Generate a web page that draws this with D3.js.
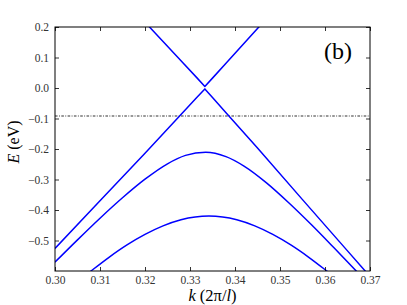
<!DOCTYPE html>
<html>
<head>
<meta charset="utf-8">
<script src="https://cdn.jsdelivr.net/npm/d3@7"></script>
<style>
  html, body { margin: 0; padding: 0; background: #fff; }
  svg { display: block; }
</style>
</head>
<body>
<svg id="chart" width="407" height="305"></svg>
<script>
// ---- data ----
const xTicks = [0.30, 0.31, 0.32, 0.33, 0.34, 0.35, 0.36, 0.37];
const yTicks = [-0.5, -0.4, -0.3, -0.2, -0.1, 0.0, 0.1, 0.2];

// upper branch of the (nearly) crossing pair
const upperK = [0.3190, 0.3210, 0.3280, 0.3315, 0.3333, 0.3351, 0.3380, 0.3453, 0.3470];
const upperE = [0.232, 0.200, 0.089, 0.034, 0.005, 0.034, 0.081, 0.200, 0.228];

// lower branch of the crossing pair
const lowerK = [0.300, 0.310, 0.320, 0.328, 0.3315, 0.3333, 0.3351, 0.338, 0.345, 0.355, 0.365, 0.370];
const lowerE = [-0.526, -0.370, -0.214, -0.087, -0.031, -0.003, -0.033, -0.081, -0.197, -0.366, -0.534, -0.618];

// first hole band (top at about -0.21)
const band1K = [0.300, 0.305, 0.310, 0.315, 0.320, 0.325, 0.329, 0.3335, 0.338, 0.342, 0.347, 0.352, 0.357, 0.362, 0.367, 0.370];
const band1E = [-0.571, -0.498, -0.427, -0.360, -0.299, -0.2485, -0.221, -0.2105, -0.225, -0.256, -0.311, -0.377, -0.4485, -0.524, -0.601, -0.648];

// second hole band (top at about -0.42)
const band2K = [0.305, 0.308, 0.312, 0.316, 0.320, 0.324, 0.328, 0.3342, 0.3404, 0.3444, 0.3484, 0.3524, 0.3564, 0.3604, 0.3634];
const band2E = [-0.635, -0.600, -0.555, -0.5145, -0.480, -0.452, -0.432, -0.4197, -0.432, -0.452, -0.480, -0.5145, -0.555, -0.600, -0.635];

// horizontal dash-dot level
const levelK = [0.30, 0.37];
const levelE = [-0.092, -0.092];

// ---- drawing ----
const SERIF = "'Liberation Serif', 'Times New Roman', serif";
const svg = d3.select("#chart");
const L = 55, R = 370, T = 27, B = 271;
const x = d3.scaleLinear().domain([0.30, 0.37]).range([L, R]);
const y = d3.scaleLinear().domain([-0.6, 0.2]).range([B, T]);

svg.append("defs").append("clipPath").attr("id", "clip")
  .append("rect").attr("x", L).attr("y", T).attr("width", R - L).attr("height", B - T);

const plot = svg.append("g").attr("clip-path", "url(#clip)");
const line = d3.line().x(d => x(d[0])).y(d => y(d[1]));
const zip = (a, b) => a.map((v, i) => [v, b[i]]);

plot.append("path").datum(zip(levelK, levelE))
  .attr("d", line).attr("fill", "none")
  .attr("stroke", "#777").attr("stroke-width", 1.6)
  .attr("stroke-dasharray", "2.6,1.4,0.9,1.4");

[[upperK, upperE, d3.curveLinear], [lowerK, lowerE, d3.curveLinear],
 [band1K, band1E, d3.curveMonotoneX], [band2K, band2E, d3.curveMonotoneX]].forEach(([ks, es, c]) => {
  plot.append("path").datum(zip(ks, es))
    .attr("d", line.curve(c)).attr("fill", "none")
    .attr("stroke", "#0000ff").attr("stroke-width", 1.5)
    .attr("stroke-linejoin", "round");
});

// axes with inward ticks
const fx = d3.format(".2f"), fy = d3.format(".1f");
const gB = svg.append("g").attr("transform", `translate(0,${B})`)
  .call(d3.axisBottom(x).tickValues(xTicks).tickFormat(fx).tickSize(-4).tickPadding(5));
const gT = svg.append("g").attr("transform", `translate(0,${T})`)
  .call(d3.axisTop(x).tickValues(xTicks).tickFormat("").tickSize(-4));
const gL = svg.append("g").attr("transform", `translate(${L},0)`)
  .call(d3.axisLeft(y).tickValues(yTicks).tickFormat(fy).tickSize(-4).tickPadding(6));
const gR = svg.append("g").attr("transform", `translate(${R},0)`)
  .call(d3.axisRight(y).tickValues(yTicks).tickFormat("").tickSize(-4));

[gB, gT, gL, gR].forEach(g => {
  g.attr("font-family", null).attr("font-size", null);
  g.select(".domain").remove();
  g.selectAll(".tick line").attr("stroke", "#000").attr("stroke-width", 0.8);
  g.selectAll("text").style("font-family", SERIF).style("font-size", "11.5px").attr("fill", "#333");
});

svg.append("rect").attr("x", L).attr("y", T).attr("width", R - L).attr("height", B - T)
  .attr("fill", "none").attr("stroke", "#000").attr("stroke-width", 1);

// axis labels
const xl = svg.append("text").attr("x", (L + R) / 2).attr("y", 301)
  .attr("text-anchor", "middle").style("font-family", SERIF).style("font-size", "16.5px");
xl.append("tspan").attr("font-style", "italic").text("k");
xl.append("tspan").text(" (2π/");
xl.append("tspan").attr("font-style", "italic").text("l");
xl.append("tspan").text(")");

const yl = svg.append("text").attr("transform", "translate(19,142) rotate(-90)")
  .attr("text-anchor", "middle").style("font-family", SERIF).style("font-size", "16px");
yl.append("tspan").attr("font-style", "italic").text("E");
yl.append("tspan").text(" (eV)");

svg.append("text").attr("x", 352).attr("y", 59).attr("text-anchor", "end")
  .style("font-family", SERIF).style("font-size", "24px").text("(b)");
</script>
</body>
</html>
